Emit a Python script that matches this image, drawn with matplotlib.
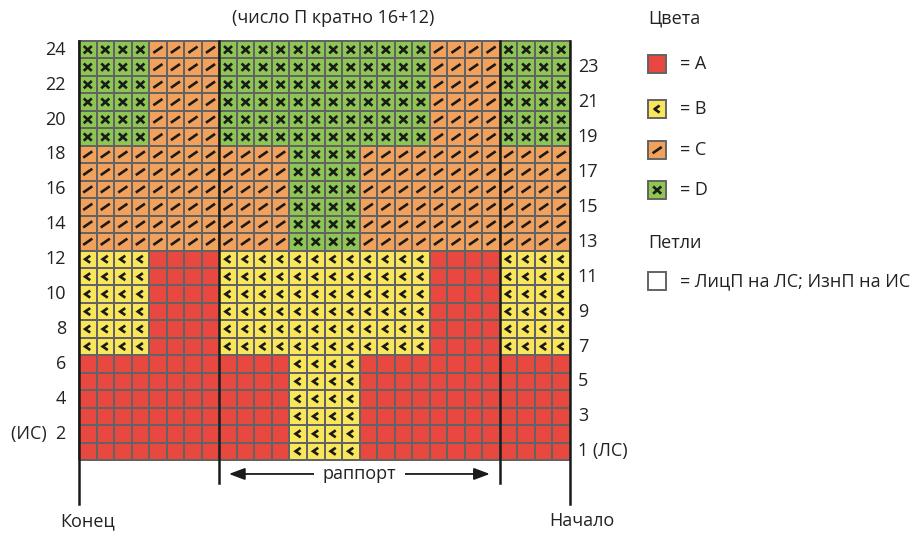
import numpy as np
import matplotlib.pyplot as plt
from matplotlib.colors import ListedColormap
from matplotlib.collections import LineCollection
from matplotlib.patches import Rectangle

plt.rcParams['font.family'] = ['Open Sans', 'DejaVu Sans']

# Chart: 28 stitches (16 repeat + 12), 24 rows, four bands of 6 rows (bottom to top)
BAND_ROWS = [
    "AAAAAAAAAAAABBBBAAAAAAAAAAAA",   # rows 1-6
    "BBBBAAAABBBBBBBBBBBBAAAABBBB",   # rows 7-12
    "CCCCCCCCCCCCDDDDCCCCCCCCCCCC",   # rows 13-18
    "DDDDCCCCDDDDDDDDDDDDCCCCDDDD",   # rows 19-24
]
ROWS_PER_BAND = 6
REPEAT_START = 8
REPEAT_WIDTH = 16

COLOR_KEYS = ["A", "B", "C", "D"]
COLOR_HEX = ["#E8483F", "#F9E65A", "#F2A15C", "#8DC653"]

LEFT_LABELS = [2, 4, 6, 8, 10, 12, 14, 16, 18, 20, 22, 24]
RIGHT_LABELS = [1, 3, 5, 7, 9, 11, 13, 15, 17, 19, 21, 23]

FS = 13
TXT = "#222222"
INK = "#1a1a1a"
GRIDC = "#636363"

chart = []
for band in BAND_ROWS:
    for _ in range(ROWS_PER_BAND):
        chart.append(band)
n_rows = len(chart)
n_cols = len(chart[0])
grid = np.array([[COLOR_KEYS.index(ch) for ch in row] for row in chart])

fig = plt.figure(figsize=(9.15, 5.35), dpi=100)
ax = fig.add_axes([0, 0, 1, 1])
# pixel layout: grid spans x 79..570, y 41..460
cw = 491 / n_cols
ch_ = 419 / n_rows
ax.set_xlim(-79 / cw, (915 - 79) / cw)
ax.set_ylim((460 - 535) / ch_, 460 / ch_)
ax.axis('off')

cmap = ListedColormap(COLOR_HEX)
ax.pcolormesh(np.arange(n_cols + 1), np.arange(n_rows + 1), grid, cmap=cmap,
              vmin=-0.5, vmax=3.5, edgecolors=GRIDC, linewidth=1.4, zorder=2)


def symbol_segments(key, x, y):
    if key == "B":
        return [[(x + 0.14, y + 0.2), (x - 0.15, y), (x + 0.14, y - 0.2)]]
    if key == "C":
        return [[(x - 0.26, y - 0.18), (x + 0.26, y + 0.18)]]
    if key == "D":
        return [[(x - 0.23, y - 0.21), (x + 0.23, y + 0.21)],
                [(x - 0.23, y + 0.21), (x + 0.23, y - 0.21)]]
    return []


segs = []
for r in range(n_rows):
    for c in range(n_cols):
        segs += symbol_segments(chart[r][c], c + 0.5, r + 0.5)
ax.add_collection(LineCollection(segs, colors=INK, linewidths=1.9,
                                 capstyle='butt', joinstyle='miter', zorder=3))

# boundary and repeat lines
ax.plot([0, 0], [n_rows, -2.52], color=INK, lw=1.8, zorder=4)
ax.plot([n_cols, n_cols], [n_rows, -2.52], color=INK, lw=1.8, zorder=4)
for xr in [REPEAT_START, REPEAT_START + REPEAT_WIDTH]:
    ax.plot([xr, xr], [n_rows, -1.32], color=INK, lw=1.8, zorder=4)

ax.annotate("", xy=(REPEAT_START + 0.55, -0.8), xytext=(REPEAT_START + REPEAT_WIDTH - 0.57, -0.8),
            arrowprops=dict(arrowstyle="<|-|>,head_length=0.8,head_width=0.3", color=INK, lw=1.3,
                            mutation_scale=12, shrinkA=0, shrinkB=0), zorder=0.5)
ax.text(REPEAT_START + REPEAT_WIDTH / 2, -0.8, "раппорт", ha='center', va='center',
        fontsize=FS, color=TXT, zorder=1,
        bbox=dict(facecolor='white', edgecolor='none', pad=6))

# row numbers
for n in LEFT_LABELS:
    txt = "(ИС)  2" if n == 2 else str(n)
    ax.text(-0.74, n - 0.5, txt, ha='right', va='center', fontsize=FS, color=TXT)
for n in RIGHT_LABELS:
    txt = "1 (ЛС)" if n == 1 else str(n)
    ax.text(n_cols + 0.45, n - 0.5, txt, ha='left', va='center', fontsize=FS, color=TXT)

ax.text(n_cols / 2 + 0.5, 25.3, "(число П кратно 16+12)", ha='center', va='center',
        fontsize=FS, color=TXT)
ax.text(-1.08, -3.5, "Конец", ha='left', va='center', fontsize=FS, color=TXT)
ax.text(n_cols + 0.68, -3.5, "Начало", ha='center', va='center', fontsize=FS, color=TXT)

# legend
lx = 32.45
ax.text(lx, 25.3, "Цвета", ha='left', va='center', fontsize=FS, color=TXT)
legend_y = [22.68, 20.1, 17.75, 15.46]
for i, key in enumerate(COLOR_KEYS):
    y = legend_y[i]
    ax.add_patch(Rectangle((lx, y - 0.5), 1.05, 1.0, facecolor=COLOR_HEX[i],
                           edgecolor=GRIDC, lw=1.4))
    sg = symbol_segments(key, lx + 0.52, y)
    if sg:
        ax.add_collection(LineCollection(sg, colors=INK, linewidths=1.9))
    ax.text(lx + 1.8, y, "= " + key, ha='left', va='center', fontsize=FS, color=TXT)

ax.text(lx, 12.43, "Петли", ha='left', va='center', fontsize=FS, color=TXT)
ax.add_patch(Rectangle((lx, 10.25 - 0.5), 1.05, 1.0, facecolor='white',
                       edgecolor=GRIDC, lw=1.4))
ax.text(lx + 1.8, 10.25, "= ЛицП на ЛС; ИзнП на ИС", ha='left', va='center',
        fontsize=FS, color=TXT)

fig.savefig("out.png", dpi=100)
